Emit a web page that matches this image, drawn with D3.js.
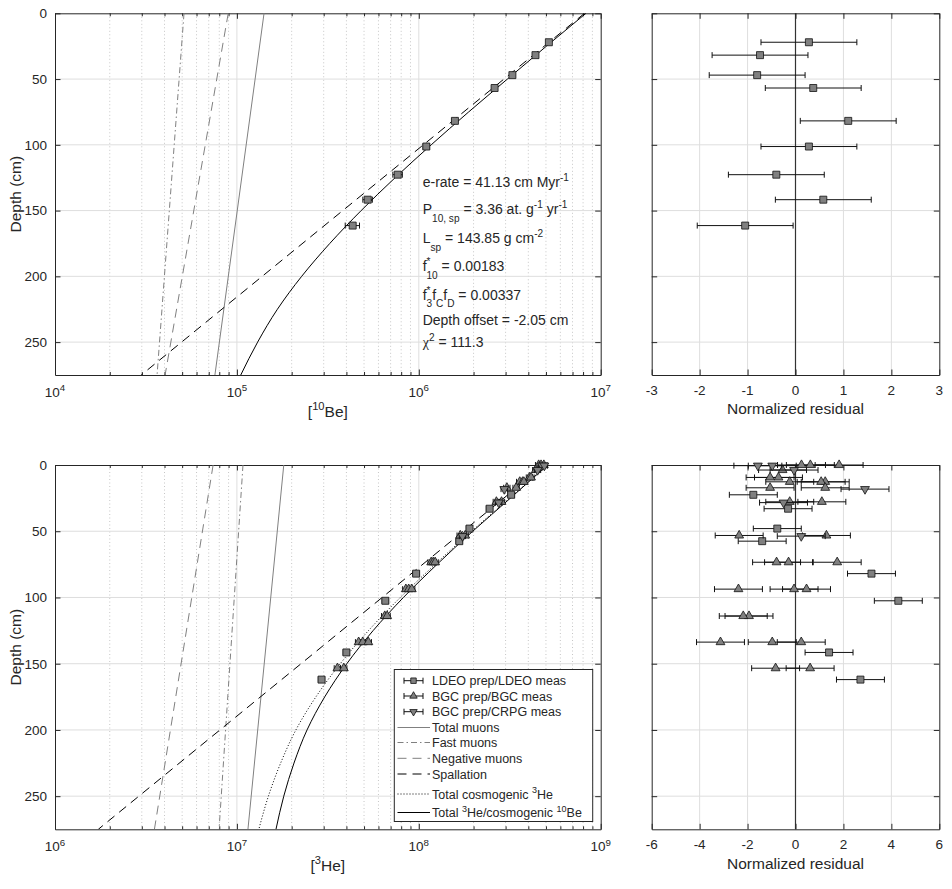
<!DOCTYPE html>
<html>
<head>
<meta charset="utf-8">
<script src="https://cdn.jsdelivr.net/npm/d3@7"></script>
<style>
body { margin: 0; background: #fff; }
text { font-family: "Liberation Sans", Arial, Helvetica, sans-serif; fill: #262626; white-space: pre; }
</style>
</head>
<body>
<script>
// ---------- data ----------
var depthTicks = [0, 50, 100, 150, 200, 250];

// 10Be
var beDecades = [1e4, 1e5, 1e6, 1e7];
var beExp = ["4", "5", "6", "7"];
var beResTicks = [-3, -2, -1, 0, 1, 2, 3];
var beDepth = [22.0, 31.8, 47.0, 56.8, 81.8, 101.3, 122.7, 141.7, 161.4];
var beConc = [5.19e6, 4.38e6, 3.27e6, 2.61e6, 1.58e6, 1.10e6, 7.66e5, 5.24e5, 4.33e5];
var beErr = [0.03, 0.03, 0.03, 0.03, 0.035, 0.04, 0.06, 0.06, 0.09];
var beResid = [0.28, -0.74, -0.80, 0.37, 1.10, 0.28, -0.40, 0.58, -1.05];

// model curves (depth in cm)
var lineDepth = [0, 275];
var curveDepth = [0, 25, 50, 75, 100, 125, 150, 175, 200, 225, 250, 275];
var beSpall = [8.15e6, 2.98e4];
var beFastMu = [5.12e4, 3.64e4];
var beNegMu = [8.96e4, 4.03e4];
var beTotMu = [1.41e5, 7.57e4];
var beTotal = [8.3e6, 5.03e6, 3.07e6, 1.88e6, 1.17e6, 7.41e5, 4.82e5, 3.24e5, 2.27e5, 1.67e5, 1.30e5, 1.05e5];

// 3He
var heDecades = [1e6, 1e7, 1e8, 1e9];
var heExp = ["6", "7", "8", "9"];
var heResTicks = [-6, -4, -2, 0, 2, 4, 6];
var heSpall = [4.9e8, 1.73e6];
var heFastMu = [1.08e7, 7.98e6];
var heNegMu = [7.4e6, 3.52e6];
var heTotMu = [1.81e7, 1.15e7];
var heCosmo = [5.08e8, 3.16e8, 1.95e8, 1.23e8, 7.91e7, 5.29e7, 3.70e7, 2.72e7, 2.11e7, 1.74e7, 1.49e7, 1.32e7];
var heTotal = [5.11e8, 3.19e8, 1.98e8, 1.26e8, 8.23e7, 5.61e7, 4.02e7, 3.04e7, 2.43e7, 2.06e7, 1.81e7, 1.64e7];

var ldeoDepth = [22.5, 33.0, 48.0, 57.5, 82.0, 102.5, 141.5, 162.0];
var ldeoConc = [3.22e8, 2.45e8, 1.90e8, 1.67e8, 9.67e7, 6.55e7, 4.0e7, 2.92e7];
var ldeoResid = [-1.76, -0.31, -0.76, -1.39, 3.17, 4.29, 1.40, 2.71];

var bgcDepth = [0, 0, 0, 3.8, 9.4, 9.4, 12.7, 12.7, 12.7, 17.2, 17.2, 27.8, 27.8, 53.2, 53.2,
  73.4, 73.4, 73.4, 93.7, 93.7, 93.7, 114, 114, 133.7, 133.7, 133.7, 153.4, 153.4];
var bgcConc = [4.56e8, 4.70e8, 4.87e8, 4.40e8, 4.06e8, 4.14e8, 3.59e8, 3.72e8, 3.78e8, 3.05e8, 3.43e8,
  2.67e8, 2.85e8, 1.69e8, 1.80e8, 1.17e8, 1.20e8, 1.23e8, 8.49e7, 8.80e7, 9.15e7, 6.5e7, 6.7e7,
  4.67e7, 4.92e7, 5.28e7, 3.57e7, 3.87e7];
var bgcResid = [1.82, 0.62, 0.25, -0.54, -0.71, -1.06, 1.24, 1.07, -0.24, 1.24, -1.06, 1.10, -0.24,
  1.29, -2.35, 1.74, -0.29, -0.79, 0.46, -0.06, -2.38, -1.94, -2.18, 0.24, -0.97, -3.13, 0.61, -0.83];

var crpgDepth = [0.5, 0.5, 3.8, 18.2, 28.4, 53.7];
var crpgConc = [4.75e8, 4.90e8, 4.50e8, 2.95e8, 2.75e8, 1.74e8];
var crpgResid = [-0.97, -1.57, -0.06, 2.90, -0.50, 0.24];
var heErr = 0.04;

// ---------- layout ----------
var svg = d3.select("body").append("svg").attr("width", 952).attr("height", 889);
var ink = "#262626", gridCol = "#dedede", minorCol = "#c6c6c6", grey = "#808080";
var leftX = [55, 600.7], rightX = [651.7, 939.3];
var topY = [13.3, 375], botY = [465, 829.3];
var tickFs = 13.5, labelFs = 15.5;

function addText(g, x, y, parts, size, anchor) {
    var t = g.append("text").attr("x", x).attr("y", y).attr("font-size", size)
        .attr("text-anchor", anchor || "start");
    var cur = 0;
    parts.forEach(function (p) {
        var kind = p[1] || "n", off = 0, fs = size;
        if (kind === "sup") { off = -0.42 * size; fs = size * 0.72; }
        if (kind === "sub" || kind === "back") { off = 0.55 * size; fs = size * 0.72; }
        var ts = t.append("tspan").attr("dy", off - cur).attr("font-size", fs).text(p[0]);
        if (kind === "back") ts.attr("dx", -p[2]);
        if (p[3]) ts.style("font-family", p[3]);
        cur = off;
    });
    return t;
}

function gridX(g, x, vals, y0, y1, col, dash) {
    g.append("g").selectAll("line").data(vals).enter().append("line")
        .attr("x1", function (d) { return x(d); }).attr("x2", function (d) { return x(d); })
        .attr("y1", y0).attr("y2", y1)
        .attr("stroke", col).attr("stroke-width", 1).attr("stroke-dasharray", dash || null);
}
function gridY(g, y, vals, x0, x1) {
    g.append("g").selectAll("line").data(vals).enter().append("line")
        .attr("y1", function (d) { return y(d); }).attr("y2", function (d) { return y(d); })
        .attr("x1", x0).attr("x2", x1)
        .attr("stroke", gridCol).attr("stroke-width", 1);
}

function frame(g, x, y, xt, minor, showY) {
    var y0 = y.range()[0], y1 = y.range()[1], x0 = x.range()[0], x1 = x.range()[1];
    var tl = -5.5;
    var ax = [
        ["translate(0," + y1 + ")", d3.axisBottom(x).tickValues(xt)],
        ["translate(0," + y0 + ")", d3.axisTop(x).tickValues(xt)],
        ["translate(" + x0 + ",0)", d3.axisLeft(y).tickValues(depthTicks)],
        ["translate(" + x1 + ",0)", d3.axisRight(y).tickValues(depthTicks)]
    ];
    ax.forEach(function (a, i) {
        var axis = a[1].tickSizeInner(tl).tickSizeOuter(0);
        if (i === 2 && showY) axis.tickPadding(8); else axis.tickFormat("");
        var s = g.append("g").attr("transform", a[0]).call(axis);
        s.select(".domain").attr("stroke", ink);
        s.selectAll("line").attr("stroke", ink);
        s.selectAll("text").attr("font-size", tickFs).attr("font-family", null);
    });
    if (minor) {
        g.append("g").attr("transform", "translate(0," + y1 + ")")
            .call(d3.axisBottom(x).tickValues(minor).tickSizeInner(-3).tickSizeOuter(0).tickFormat(""))
            .call(function (s) { s.select(".domain").remove(); s.selectAll("line").attr("stroke", ink); });
        g.append("g").attr("transform", "translate(0," + y0 + ")")
            .call(d3.axisTop(x).tickValues(minor).tickSizeInner(-3).tickSizeOuter(0).tickFormat(""))
            .call(function (s) { s.select(".domain").remove(); s.selectAll("line").attr("stroke", ink); });
    }
}

var clipN = 0;
function logPanel(yr, decades, exps, xlabel) {
    var x = d3.scaleLog().domain([decades[0], decades[decades.length - 1]]).range(leftX);
    var y = d3.scaleLinear().domain([0, 275]).range(yr);
    var g = svg.append("g");
    var minor = [];
    decades.slice(0, -1).forEach(function (d) { for (var k = 2; k < 10; k++) minor.push(d * k); });
    gridX(g, x, minor, yr[0], yr[1], minorCol, "1,2.5");
    gridX(g, x, decades.slice(1, -1), yr[0], yr[1], gridCol);
    gridY(g, y, depthTicks.slice(1), leftX[0], leftX[1]);
    frame(g, x, y, decades, minor, true);
    decades.forEach(function (d, i) {
        addText(g, x(d), yr[1] + 22, [["10"], [exps[i], "sup"]], tickFs, "middle");
    });
    addText(g, (leftX[0] + leftX[1]) / 2, yr[1] + 41.5, xlabel, labelFs, "middle");
    g.append("text").attr("transform", "translate(21," + ((yr[0] + yr[1]) / 2) + ") rotate(-90)")
        .attr("text-anchor", "middle").attr("font-size", labelFs).text("Depth (cm)");
    var id = "clip" + (clipN++);
    g.append("clipPath").attr("id", id).append("rect")
        .attr("x", leftX[0]).attr("y", yr[0]).attr("width", leftX[1] - leftX[0]).attr("height", yr[1] - yr[0]);
    var plot = g.append("g").attr("clip-path", "url(#" + id + ")");
    return { x: x, y: y, g: g, plot: plot };
}

function residPanel(yr, ticks) {
    var x = d3.scaleLinear().domain([ticks[0], ticks[ticks.length - 1]]).range(rightX);
    var y = d3.scaleLinear().domain([0, 275]).range(yr);
    var g = svg.append("g");
    gridX(g, x, ticks.slice(1, -1), yr[0], yr[1], gridCol);
    gridY(g, y, depthTicks.slice(1), rightX[0], rightX[1]);
    g.append("line").attr("x1", x(0)).attr("x2", x(0)).attr("y1", yr[0]).attr("y2", yr[1])
        .attr("stroke", "#333").attr("stroke-width", 1.2);
    frame(g, x, y, ticks, null, false);
    ticks.forEach(function (t) {
        g.append("text").attr("x", x(t)).attr("y", yr[1] + 19.5).attr("text-anchor", "middle")
            .attr("font-size", tickFs).text(t);
    });
    g.append("text").attr("x", (rightX[0] + rightX[1]) / 2).attr("y", yr[1] + 39.2)
        .attr("text-anchor", "middle").attr("font-size", labelFs).text("Normalized residual");
    return { x: x, y: y, g: g };
}

function modelLine(p, depths, vals, col, dash) {
    var line = d3.line()
        .x(function (d) { return p.x(d[1]); })
        .y(function (d) { return p.y(d[0]); })
        .curve(d3.curveMonotoneY);
    p.plot.append("path").datum(d3.zip(depths, vals))
        .attr("fill", "none").attr("stroke", col).attr("stroke-width", 1)
        .attr("stroke-dasharray", dash || null).attr("d", line);
}

var squareSym = d3.symbol().type(d3.symbolSquare).size(49);
var triSym = d3.symbol().type(d3.symbolTriangle).size(34);

function errBars(g, xs0, xs1, ys, cap) {
    var e = g.append("g").attr("stroke", "#111").attr("stroke-width", 1).attr("fill", "none");
    ys.forEach(function (yv, i) {
        e.append("line").attr("x1", xs0[i]).attr("x2", xs1[i]).attr("y1", yv).attr("y2", yv);
        e.append("line").attr("x1", xs0[i]).attr("x2", xs0[i]).attr("y1", yv - cap).attr("y2", yv + cap);
        e.append("line").attr("x1", xs1[i]).attr("x2", xs1[i]).attr("y1", yv - cap).attr("y2", yv + cap);
    });
}
function marks(g, xs, ys, sym, rot) {
    g.append("g").selectAll("path").data(xs).enter().append("path")
        .attr("d", sym)
        .attr("transform", function (d, i) { return "translate(" + d + "," + ys[i] + ")" + (rot ? " rotate(180)" : ""); })
        .attr("fill", grey).attr("stroke", "#111").attr("stroke-width", 0.8);
}

function concSeries(p, depth, conc, err, sym, rot) {
    var ys = depth.map(function (d) { return p.y(d); });
    errBars(p.g, conc.map(function (c, i) { return p.x(c * (1 - (err[i] || err))); }),
        conc.map(function (c, i) { return p.x(c * (1 + (err[i] || err))); }), ys, 3);
    marks(p.g, conc.map(function (c) { return p.x(c); }), ys, sym, rot);
}
function residSeries(p, depth, res, sym, rot) {
    var ys = depth.map(function (d) { return p.y(d); });
    errBars(p.g, res.map(function (r) { return p.x(r - 1); }), res.map(function (r) { return p.x(r + 1); }), ys, 3);
    marks(p.g, res.map(function (r) { return p.x(r); }), ys, sym, rot);
}

// ---------- top row: 10Be ----------
var be = logPanel(topY, beDecades, beExp, [["["], ["10", "sup"], ["Be]"]]);
modelLine(be, lineDepth, beFastMu, grey, "6,3,1.5,3");
modelLine(be, lineDepth, beNegMu, grey, "9,6");
modelLine(be, lineDepth, beTotMu, grey);
modelLine(be, lineDepth, beSpall, "#000", "9,6");
modelLine(be, curveDepth, beTotal, "#000");
concSeries(be, beDepth, beConc, beErr, squareSym, false);

var annot = [
    [187, [["e-rate = 41.13 cm Myr"], ["-1", "sup"]]],
    [214, [["P"], ["10, sp", "sub"], [" = 3.36 at. g"], ["-1", "sup"], [" yr"], ["-1", "sup"]]],
    [243, [["L"], ["sp", "sub"], [" = 143.85 g cm"], ["-2", "sup"]]],
    [271, [["f"], ["*", "sup"], ["10", "back", 4], [" = 0.00183"]]],
    [299.5, [["f"], ["*", "sup"], ["3", "back", 4], ["f"], ["C", "sub"], ["f"], ["D", "sub"], [" = 0.00337"]]],
    [325, [["Depth offset = -2.05 cm"]]],
    [346.7, [["\u03c7", "n", 0, "Liberation Serif"], ["2", "sup"], [" = 111.3"]]]
];
annot.forEach(function (a) { addText(be.g, 422.7, a[0], a[1], 14); });

var beR = residPanel(topY, beResTicks);
residSeries(beR, beDepth, beResid, squareSym, false);

// ---------- bottom row: 3He ----------
var he = logPanel(botY, heDecades, heExp, [["["], ["3", "sup"], ["He]"]]);
modelLine(he, lineDepth, heNegMu, grey, "9,6");
modelLine(he, lineDepth, heFastMu, grey, "6,3,1.5,3");
modelLine(he, lineDepth, heTotMu, grey);
modelLine(he, lineDepth, heSpall, "#000", "9,6");
modelLine(he, curveDepth, heCosmo, "#000", "1,2");
modelLine(he, curveDepth, heTotal, "#000");
concSeries(he, ldeoDepth, ldeoConc, heErr, squareSym, false);
concSeries(he, bgcDepth, bgcConc, heErr, triSym, false);
concSeries(he, crpgDepth, crpgConc, heErr, triSym, true);

var heR = residPanel(botY, heResTicks);
residSeries(heR, ldeoDepth, ldeoResid, squareSym, false);
residSeries(heR, bgcDepth, bgcResid, triSym, false);
residSeries(heR, crpgDepth, crpgResid, triSym, true);

// ---------- legend ----------
var legendItems = [
    { y: 680.7, kind: "sq", text: [["LDEO prep/LDEO meas"]] },
    { y: 696, kind: "up", text: [["BGC prep/BGC meas"]] },
    { y: 711.7, kind: "down", text: [["BGC prep/CRPG meas"]] },
    { y: 727.5, kind: "line", col: grey, dash: null, text: [["Total muons"]] },
    { y: 742.5, kind: "line", col: grey, dash: "6,3,1.5,3", text: [["Fast muons"]] },
    { y: 758.3, kind: "line", col: grey, dash: "9,6", text: [["Negative muons"]] },
    { y: 774, kind: "line", col: "#000", dash: "9,6", text: [["Spallation"]] },
    { y: 794, kind: "line", col: "#000", dash: "1,2", text: [["Total cosmogenic "], ["3", "sup"], ["He"]] },
    { y: 812.5, kind: "line", col: "#000", dash: null, text: [["Total "], ["3", "sup"], ["He/cosmogenic "], ["10", "sup"], ["Be"]] }
];
var leg = svg.append("g");
leg.append("rect").attr("x", 394.3).attr("y", 669.5).attr("width", 198.4).attr("height", 152)
    .attr("fill", "#fff").attr("stroke", ink).attr("stroke-width", 1);
legendItems.forEach(function (it) {
    if (it.kind === "line") {
        leg.append("line").attr("x1", 397.5).attr("x2", 430).attr("y1", it.y).attr("y2", it.y)
            .attr("stroke", it.col).attr("stroke-width", 1).attr("stroke-dasharray", it.dash);
    } else {
        errBars(leg, [404], [423], [it.y], 3);
        var sym = it.kind === "sq" ? d3.symbol().type(d3.symbolSquare).size(30) : d3.symbol().type(d3.symbolTriangle).size(24);
        marks(leg, [413.5], [it.y], sym, it.kind === "down");
    }
    addText(leg, 432, it.y + 4.5, it.text, 12.5);
});
</script>
</body>
</html>
